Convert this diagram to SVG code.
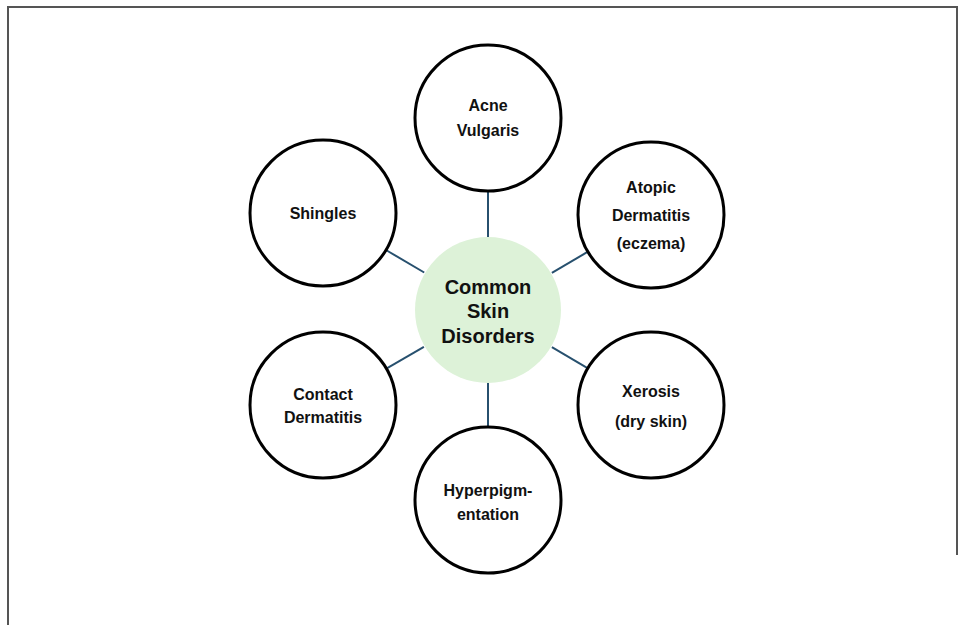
<svg xmlns="http://www.w3.org/2000/svg" width="965" height="625" viewBox="0 0 965 625">
<style>
.node{fill:#ffffff;stroke:#000000;stroke-width:3}
.hub{fill:#ddf2d8;stroke:none}
.lbl{font-family:"Liberation Sans",Arial,sans-serif;font-weight:bold;font-size:16px;fill:#111;text-anchor:middle}
.hlbl{font-family:"Liberation Sans",Arial,sans-serif;font-weight:bold;font-size:20px;fill:#111;text-anchor:middle}
.conn line{stroke:#27506e;stroke-width:2}
</style>
<rect width="965" height="625" fill="#ffffff"/>
<path d="M8,625 V7 H957 V555" fill="none" stroke="#555" stroke-width="2"/>
<g id="connectors" class="conn">
<line x1="488" y1="192" x2="488" y2="237"/>
<line x1="488" y1="383" x2="488" y2="427"/>
<line x1="551.9" y1="272.8" x2="587.1" y2="252.2"/>
<line x1="551.9" y1="347.2" x2="587.1" y2="367.8"/>
<line x1="424.2" y1="272.5" x2="386.8" y2="250.5"/>
<line x1="423.9" y1="346.9" x2="387.2" y2="368.1"/>
</g>
<g id="hub">
<circle class="hub" cx="488" cy="310" r="73"/>
<text class="hlbl" x="488" y="294">Common</text>
<text class="hlbl" x="488" y="318">Skin</text>
<text class="hlbl" x="488" y="343">Disorders</text>
</g>
<g id="acne">
<circle class="node" cx="488" cy="118" r="73"/>
<text class="lbl" x="488" y="111">Acne</text>
<text class="lbl" x="488" y="136">Vulgaris</text>
</g>
<g id="atopic">
<circle class="node" cx="651" cy="215" r="73"/>
<text class="lbl" x="651" y="193">Atopic</text>
<text class="lbl" x="651" y="221">Dermatitis</text>
<text class="lbl" x="651" y="249">(eczema)</text>
</g>
<g id="xerosis">
<circle class="node" cx="651" cy="405" r="73"/>
<text class="lbl" x="651" y="397">Xerosis</text>
<text class="lbl" x="651" y="427">(dry skin)</text>
</g>
<g id="hyper">
<circle class="node" cx="488" cy="500" r="73"/>
<text class="lbl" x="488" y="496">Hyperpigm-</text>
<text class="lbl" x="488" y="520">entation</text>
</g>
<g id="contact">
<circle class="node" cx="323" cy="405" r="73"/>
<text class="lbl" x="323" y="400">Contact</text>
<text class="lbl" x="323" y="423">Dermatitis</text>
</g>
<g id="shingles">
<circle class="node" cx="323" cy="213" r="73"/>
<text class="lbl" x="323" y="219">Shingles</text>
</g>
</svg>
